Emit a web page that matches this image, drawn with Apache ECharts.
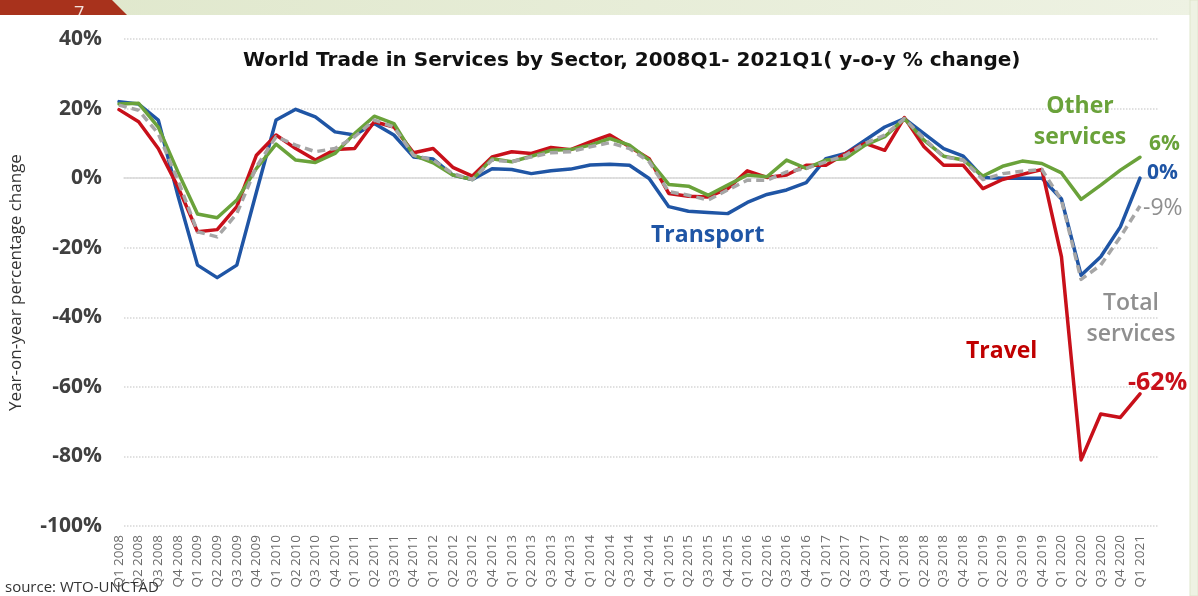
<!DOCTYPE html>
<html>
<head>
<meta charset="utf-8">
<script src="https://cdn.jsdelivr.net/npm/echarts@6/dist/echarts.min.js"></script>
<style>
  html, body { margin: 0; padding: 0; background: #fff; }
  #chart { width: 1198px; height: 596px; }
</style>
</head>
<body>
<div id="chart"></div>
<script>
// quarters Q1 2008 .. Q1 2021
const quarters = [
  'Q1 2008', 'Q2 2008', 'Q3 2008', 'Q4 2008',
  'Q1 2009', 'Q2 2009', 'Q3 2009', 'Q4 2009',
  'Q1 2010', 'Q2 2010', 'Q3 2010', 'Q4 2010',
  'Q1 2011', 'Q2 2011', 'Q3 2011', 'Q4 2011',
  'Q1 2012', 'Q2 2012', 'Q3 2012', 'Q4 2012',
  'Q1 2013', 'Q2 2013', 'Q3 2013', 'Q4 2013',
  'Q1 2014', 'Q2 2014', 'Q3 2014', 'Q4 2014',
  'Q1 2015', 'Q2 2015', 'Q3 2015', 'Q4 2015',
  'Q1 2016', 'Q2 2016', 'Q3 2016', 'Q4 2016',
  'Q1 2017', 'Q2 2017', 'Q3 2017', 'Q4 2017',
  'Q1 2018', 'Q2 2018', 'Q3 2018', 'Q4 2018',
  'Q1 2019', 'Q2 2019', 'Q3 2019', 'Q4 2019',
  'Q1 2020', 'Q2 2020', 'Q3 2020', 'Q4 2020',
  'Q1 2021'
]

// y-o-y % change
const transport = [
  22, 21.3, 16.7, -5, -25, -28.6, -25, -4, 16.7, 19.8,
  17.6, 13.3, 12.4, 15.7, 12.4, 6.1, 5.5, 0.9, -0.4, 2.7,
  2.5, 1.3, 2.1, 2.6, 3.8, 4.0, 3.7, -0.1, -8.2, -9.5,
  -9.9, -10.2, -7, -4.7, -3.4, -1.3, 5.6, 7.1, 10.9, 14.7,
  17.1, 12.8, 8.5, 6.3, 0.2, 0, 0, 0, -6, -27.9,
  -22.6, -14, 0
]
const travel = [
  19.7, 16.2, 8.5, -2.5, -15.4, -14.8, -8.2, 6.6, 12.4, 8.5,
  5.2, 8.2, 8.5, 16.2, 14.7, 7.3, 8.5, 3.1, 0.6, 6.1,
  7.6, 7.1, 8.8, 8.2, 10.4, 12.4, 9.0, 5.6, -4.4, -5.2,
  -5.4, -3.0, 2.1, 0.2, 0.9, 3.7, 3.7, 7.1, 10.0, 8.0,
  17.4, 9.0, 3.7, 3.7, -3.0, -0.4, 1.1, 2.5, -22.6, -81,
  -67.8, -68.8, -62
]
const otherServices = [
  21.3, 21.5, 14.7, 1.8, -10.3, -11.4, -6.3, 2.8, 9.8, 5.2,
  4.5, 7.1, 12.8, 17.8, 15.7, 6.6, 4.4, 0.9, -0.4, 5.6,
  4.7, 6.3, 8.0, 8.2, 9.5, 11.4, 9.5, 5.2, -1.8, -2.3,
  -4.9, -2.0, 0.9, 0.4, 5.2, 2.8, 5.2, 5.6, 9.5, 11.9,
  17.1, 10.9, 6.3, 5.2, 0.6, 3.4, 4.9, 4.2, 1.5, -6.1,
  -2.0, 2.3, 6
]
const totalServices = [
  21, 19.5, 12.8, -0.6, -15.4, -16.9, -10.2, 3.3, 11.9, 9.5,
  7.6, 8.5, 11.9, 16.7, 14.7, 6.6, 5.2, 1.3, -0.4, 5.2,
  4.7, 6.1, 7.3, 7.6, 9.0, 10.2, 8.5, 4.7, -3.9, -4.9,
  -6.3, -3.4, -0.6, -0.6, 1.8, 2.8, 4.7, 6.6, 10.0, 12.4,
  17.1, 11.4, 6.1, 5.2, -0.4, 1.3, 2.0, 2.5, -6.3, -29.1,
  -25, -16.9, -8
]
// labels at the end of each line
const endLabels = { transport: '0%', travel: '-62%', other: '6%', total: '-9%' }

const FONT = '"Open Sans", "Noto Sans", sans-serif'
const BLUE = '#1f55a5'
const RED = '#c8101a'
const GREEN = '#6aa23a'
const GRAY = '#a6a6a6'

const chart = echarts.init(document.getElementById('chart'))

function lineSeries(name, data, color, label, offset, extra) {
  return Object.assign({
    name: name,
    type: 'line',
    xAxisIndex: 1,
    yAxisIndex: 1,
    data: data,
    symbol: 'none',
    smooth: false,
    lineStyle: { color: color, width: 3.5, cap: 'round', join: 'round' },
    endLabel: {
      show: true,
      formatter: label,
      distance: 0,
      offset: offset,
      color: color,
      fontFamily: FONT,
      fontWeight: 'bold',
      fontSize: 21
    }
  }, extra || {})
}

function note(text, x, y, color, align, weight) {
  return {
    type: 'text', x: x, y: y, z: 50, silent: true,
    style: {
      text: text, align: align, verticalAlign: 'middle', fill: color,
      fontFamily: FONT, fontWeight: weight || 'bold', fontSize: 23, lineHeight: 31
    }
  }
}

chart.setOption({
  animation: false,
  backgroundColor: '#fff',
  title: {
    text: 'World Trade in Services by Sector, 2008Q1- 2021Q1( y-o-y % change)',
    left: 238,
    top: 46,
    textStyle: {
      fontFamily: '"DejaVu Sans", sans-serif',
      fontWeight: 'bold',
      fontSize: 20,
      color: '#111'
    }
  },
  grid: [
    { left: 118, right: 40, top: 39, bottom: 70 },
    { left: 119, right: 58, top: 39, bottom: 70 }
  ],
  xAxis: [{
    gridIndex: 0,
    type: 'value',
    min: 0,
    max: 1,
    axisLine: { show: true, onZero: true, lineStyle: { color: '#d9d9d9', width: 1.5 } },
    axisTick: { show: false },
    axisLabel: { show: false },
    splitLine: { show: false }
  }, {
    gridIndex: 1,
    type: 'category',
    boundaryGap: false,
    data: quarters,
    axisLine: { show: false },
    axisTick: { show: false },
    axisLabel: {
      interval: 0,
      rotate: 90,
      margin: 9,
      fontSize: 13.5,
      fontFamily: FONT,
      color: '#6b6b6b'
    },
    splitLine: { show: false }
  }],
  yAxis: [{
    gridIndex: 0,
    type: 'value',
    min: -100,
    max: 40,
    interval: 20,
    name: 'Year-on-year percentage change',
    nameLocation: 'middle',
    nameGap: 99,
    nameTextStyle: { fontFamily: FONT, fontSize: 17, color: '#333' },
    axisLine: { show: false },
    axisTick: { show: false },
    axisLabel: {
      formatter: '{value}%',
      margin: 22,
      fontFamily: FONT,
      fontWeight: 'bold',
      fontSize: 21,
      color: '#404040'
    },
    splitLine: { show: true, lineStyle: { color: '#d6d6d6', type: 'dotted', width: 1.5 } }
  }, {
    gridIndex: 1,
    type: 'value',
    min: -100,
    max: 40,
    show: false
  }],
  series: [
    lineSeries('Transport', transport, BLUE, endLabels.transport, [7, -5]),
    lineSeries('Travel', travel, RED, endLabels.travel, [-12, -11], {
      endLabel: {
        show: true, formatter: endLabels.travel, distance: 0, offset: [-12, -11],
        color: RED, fontFamily: FONT, fontWeight: 'bold', fontSize: 25
      }
    }),
    lineSeries('Other services', otherServices, GREEN, endLabels.other, [9, -13]),
    lineSeries('Total services', totalServices, GRAY, endLabels.total, [3, 2], {
      lineStyle: { color: GRAY, width: 3.5, type: [8, 5], cap: 'butt', join: 'round' },
      endLabel: {
        show: true, formatter: endLabels.total, distance: 0, offset: [3, 2],
        color: '#8f8f8f', fontFamily: FONT, fontWeight: 'normal', fontSize: 23
      }
    })
  ],
  graphic: [
    // slide header strip
    {
      type: 'rect', z: 100, silent: true,
      shape: { x: 0, y: 0, width: 1198, height: 15 },
      style: {
        fill: new echarts.graphic.LinearGradient(0, 0, 1, 0, [
          { offset: 0, color: '#dfe7cb' },
          { offset: 1, color: '#eef2e3' }
        ])
      }
    },
    {
      type: 'polygon', z: 101, silent: true,
      shape: { points: [[0, 0], [112, 0], [127, 15], [0, 15]] },
      style: { fill: '#a8321c' }
    },
    {
      type: 'text', z: 102, silent: true, left: 74, top: 5,
      style: { text: '7', fill: '#f3e2dc', fontSize: 18, fontFamily: FONT }
    },
    {
      type: 'rect', z: 103, silent: true,
      shape: { x: 0, y: 15, width: 300, height: 12 },
      style: { fill: '#fff' }
    },
    // right frame strip
    {
      type: 'rect', z: 100, silent: true,
      shape: { x: 1190, y: 0, width: 8, height: 596 },
      style: { fill: '#eef2e3', stroke: '#dfe6cc', lineWidth: 1 }
    },
    // series annotations
    note('Other\nservices', 1080, 122, GREEN, 'center'),
    note('Transport', 651, 235, BLUE, 'left'),
    note('Total\nservices', 1131, 319, '#8f8f8f', 'center', 600),
    note('Travel', 966, 351, '#c00000', 'left'),
    {
      type: 'text', x: 5, y: 588, z: 50, silent: true,
      style: { text: 'source: WTO-UNCTAD', verticalAlign: 'middle', fill: '#333', fontFamily: FONT, fontSize: 15 }
    }
  ]
})
</script>
</body>
</html>
